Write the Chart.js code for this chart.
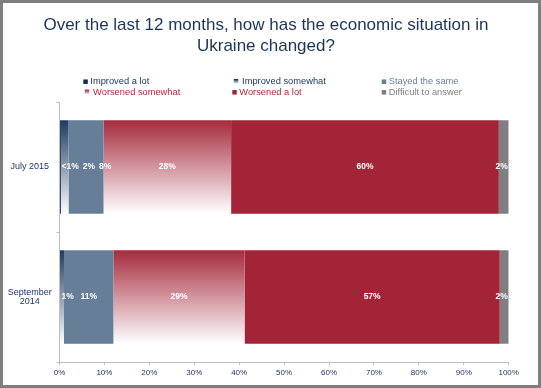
<!DOCTYPE html>
<html>
<head>
<meta charset="utf-8">
<script src="https://cdn.jsdelivr.net/npm/chart.js@4"></script>
<style>
html,body{margin:0;padding:0;background:#fff;}
#wrap{width:541px;height:388px;box-sizing:border-box;border:3px solid #7f7f7f;background:#fff;}
canvas{display:block;}
</style>
</head>
<body>
<div id="wrap"><canvas id="c" width="535" height="382"></canvas></div>
<script>
// ---- data ----
const categories = ['July 2015', ['September', '2014']];
const seriesNames = ['Improved a lot', 'Improved somewhat', 'Stayed the same', 'Worsened somewhat', 'Worsened a lot', 'Difficult to answer'];
const improvedALot      = [0.3, 0];
const improvedSomewhat  = [1.7, 1.0];
const stayedTheSame     = [7.8, 11.0];
const worsenedSomewhat  = [28.4, 29.2];
const worsenedALot      = [59.6, 56.8];
const difficultToAnswer = [2.2, 2.0];
const xTickValues = [0, 10, 20, 30, 40, 50, 60, 70, 80, 90, 100];
const titleLines = ['Over the last 12 months, how has the economic situation in', 'Ukraine changed?'];

// ---- styles ----
const FONT = "'Liberation Sans', Arial, sans-serif";
const seriesValues = [improvedALot, improvedSomewhat, stayedTheSame, worsenedSomewhat, worsenedALot, difficultToAnswer];
const seriesColors = ['#13294b', '#1d3a62', '#677e98', '#a52b3d', '#a32437', '#7f7f7f'];
const gradientSeries = [false, true, false, true, false, false];
const legendTextColors = ['#1f3864', '#1f3864', '#677e98', '#b0283c', '#b0283c', '#7f7f7f'];
const BAR_PCT = 0.72;

function gradientFill(ctx, color) {
  const chart = ctx.chart;
  const y = chart.scales && chart.scales.y;
  if (!y || !chart.chartArea) return color;
  const c = y.getPixelForValue(ctx.dataIndex);
  const h = (y.height / categories.length) * BAR_PCT;
  const g = chart.ctx.createLinearGradient(0, c - h / 2, 0, c + h / 2);
  g.addColorStop(0, color);
  g.addColorStop(1, '#ffffff');
  return g;
}

const titleShiftPlugin = {
  id: 'titleShift',
  afterLayout(chart, args, opts) {
    const t = chart.titleBlock;
    if (t) { t.left += opts.dx; t.right += opts.dx; }
  }
};

const labelPlugin = {
  id: 'segLabels',
  afterDatasetsDraw(chart) {
    const ctx = chart.ctx;
    const area = chart.chartArea;
    ctx.save();
    ctx.font = 'bold 8.5px ' + FONT;
    ctx.fillStyle = '#ffffff';
    ctx.textAlign = 'left';
    ctx.textBaseline = 'middle';
    categories.forEach((_, i) => {
      let prevRight = -Infinity;
      chart.data.datasets.forEach((ds, d) => {
        const v = ds.data[i];
        if (!(v > 0)) return;
        const el = chart.getDatasetMeta(d).data[i];
        const l = Math.min(el.x, el.base), r = Math.max(el.x, el.base);
        const txt = v < 1 ? '<1%' : Math.round(v) + '%';
        const w = ctx.measureText(txt).width;
        let x0 = Math.max((l + r) / 2 - w / 2, prevRight + 4, area.left + 2);
        if (x0 + w > area.right - 1) x0 = area.right - 1 - w;
        ctx.fillText(txt, x0, el.y);
        prevRight = x0 + w;
      });
    });
    ctx.restore();
  }
};

const legendPlugin = {
  id: 'gridLegend',
  afterDraw(chart, args, opts) {
    const ctx = chart.ctx;
    const top = chart.chartArea.top;
    ctx.save();
    ctx.font = '9.3px ' + FONT;
    ctx.textBaseline = 'middle';
    ctx.textAlign = 'left';
    chart.data.datasets.forEach((ds, k) => {
      const col = k % 3, row = Math.floor(k / 3);
      const x = opts.columns[col];
      const y = top + opts.rows[row];
      const s = 4.5;
      if (gradientSeries[k]) {
        const g = ctx.createLinearGradient(0, y - s / 2, 0, y + s / 2);
        g.addColorStop(0, seriesColors[k]);
        g.addColorStop(1, '#ffffff');
        ctx.fillStyle = g;
        ctx.fillRect(x + 1.5, y - s / 2 - 0.5, s, s);
      } else {
        ctx.fillStyle = seriesColors[k];
        ctx.fillRect(x, y - s / 2, s, s);
      }
      ctx.fillStyle = legendTextColors[k];
      ctx.fillText(ds.label, x + (gradientSeries[k] ? 9.8 : 7), y);
    });
    ctx.restore();
  }
};

new Chart(document.getElementById('c'), {
  type: 'bar',
  data: {
    labels: categories,
    datasets: seriesValues.map((data, k) => ({
      label: seriesNames[k],
      data: data,
      backgroundColor: gradientSeries[k] ? (c) => gradientFill(c, seriesColors[k]) : seriesColors[k],
      borderWidth: 0,
      barPercentage: BAR_PCT,
      categoryPercentage: 1.0
    }))
  },
  options: {
    indexAxis: 'y',
    responsive: false,
    animation: false,
    devicePixelRatio: 1,
    layout: { padding: { left: 3, right: 29.3, top: 0, bottom: 7 } },
    plugins: {
      legend: { display: false },
      tooltip: { enabled: false },
      title: {
        display: true,
        text: titleLines,
        color: '#1b3558',
        font: { family: FONT, size: 17, weight: 'normal', lineHeight: 1.25 },
        padding: { top: 11.5, bottom: 45 }
      },
      titleShift: { dx: 8.6 },
      gridLegend: { columns: [80.3, 229.3, 378.7], rows: [-20.3, -9.7] }
    },
    scales: {
      x: {
        stacked: true,
        min: 0,
        max: 100,
        afterBuildTicks: (s) => { s.ticks = xTickValues.map(v => ({ value: v })); },
        ticks: {
          callback: (v) => v + '%',
          color: '#1f3864',
          font: { family: FONT, size: 8 },
          padding: 3,
          maxRotation: 0,
          autoSkip: false
        },
        grid: { display: true, drawOnChartArea: false, drawTicks: true, tickLength: 3, color: '#bfbfbf' },
        border: { color: '#bfbfbf' },
        afterFit: (s) => { s.height = 16; }
      },
      y: {
        stacked: true,
        ticks: {
          color: '#1f3864',
          font: { family: FONT, size: 9, lineHeight: 1.1 },
          crossAlign: 'center',
          padding: 4.8
        },
        grid: { display: true, drawOnChartArea: false, tickLength: 3, color: '#bfbfbf', offset: true },
        border: { color: '#bfbfbf' },
        afterFit: (s) => { s.width = 53.5; }
      }
    }
  },
  plugins: [titleShiftPlugin, labelPlugin, legendPlugin]
});
</script>
</body>
</html>
